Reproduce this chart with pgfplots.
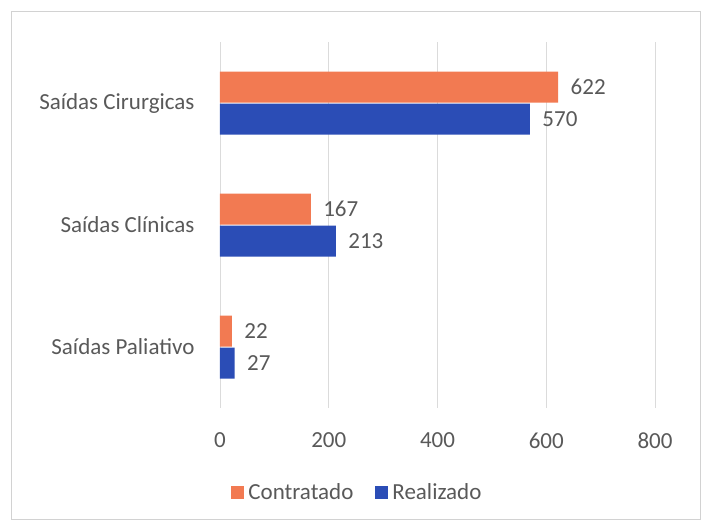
\documentclass[border=0pt]{standalone}
\usepackage{pgfplots}
\pgfplotsset{compat=1.18}
\usepackage{fontspec}
\setmainfont{Carlito}
\definecolor{contr}{HTML}{F27A52}
\definecolor{real}{HTML}{2B4DB6}
\definecolor{txt}{HTML}{595959}

\begin{document}
\begin{tikzpicture}[x=1pt,y=1pt]
% page = 705x527 px, axis box lower left at px (220,408)
\path (-220,-119) rectangle (485,408);
\draw[gray!35, line width=1pt] (-208,-112) rectangle (480,396);
\begin{axis}[
    at={(0,0)}, anchor=south west,
    scale only axis,
    width=435pt, height=366pt,
    xbar,
    bar width=31pt,
    y dir=reverse,
    xmin=0, xmax=800,
    ymin=-0.5, ymax=2.5,
    ytick={0,1,2},
    yticklabels={Saídas Cirurgicas, Saídas Clínicas, Saídas Paliativo},
    xtick={0,200,...,800},
    xmajorgrids,
    grid style={color=gray!28, line width=0.8pt},
    axis line style={draw=none},
    major tick length=0pt,
    /pgf/number format/assume math mode=true,
    font=\fontsize{23}{27}\selectfont,
    every tick label/.append style={text=txt},
    xticklabel style={yshift=-21pt},
    yticklabel style={xshift=-22pt},
    nodes near coords,
    every node near coord/.append style={text=txt, xshift=9pt},
    legend style={at={(0.316,-0.23)}, anchor=center, draw=none,
        legend columns=2, text=txt, font=\fontsize{23}{27}\selectfont,
        /tikz/every odd column/.append style={column sep=2pt},
        /tikz/every even column/.append style={column sep=20pt}},
    legend image code/.code={\fill[#1] (0pt,-6.5pt) rectangle (13pt,6.5pt);},
]
\addplot[fill=contr, draw=none, bar shift=16pt] coordinates {(622,0) (167,1) (22,2)};
\addplot[fill=real, draw=none, bar shift=-16pt] coordinates {(570,0) (213,1) (27,2)};
\legend{Contratado, Realizado}
\end{axis}
\end{tikzpicture}
\end{document}
